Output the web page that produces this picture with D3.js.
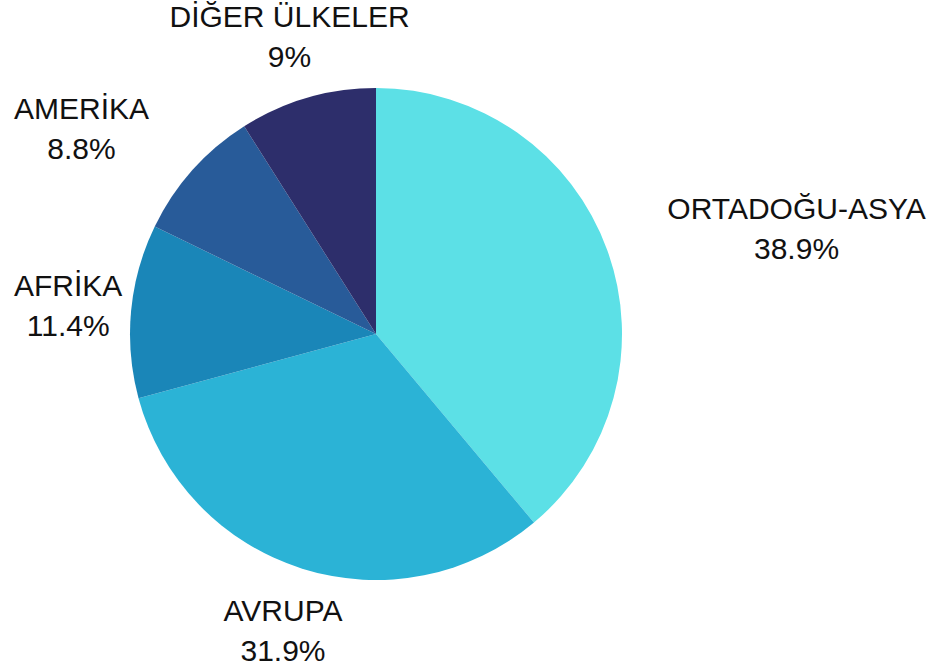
<!DOCTYPE html>
<html>
<head>
<meta charset="utf-8">
<script src="https://cdn.jsdelivr.net/npm/d3@7"></script>
<style>
  html, body { margin: 0; padding: 0; background: #fff; }
  svg { display: block; font-family: "Liberation Sans", Arial, sans-serif; }
</style>
</head>
<body>
<div id="chart"></div>
<script>
const regions = ["ORTADOĞU-ASYA", "AVRUPA", "AFRİKA", "AMERİKA", "DİĞER ÜLKELER"];
const shares = [38.9, 31.9, 11.4, 8.8, 9];
const colors = ["#5ce0e6", "#2bb3d6", "#1a86b8", "#285b99", "#2d2e6b"];

const width = 935;
const height = 670;
const cx = 376;
const cy = 334;
const radius = 246;
const labelRadius = 310;
const edge = 14;

const data = regions.map((name, i) => ({ name, value: shares[i], color: colors[i] }));

const svg = d3.select("#chart").append("svg")
  .attr("width", width)
  .attr("height", height)
  .attr("viewBox", [0, 0, width, height]);

const g = svg.append("g").attr("transform", `translate(${cx},${cy})`);

const pie = d3.pie().sort(null).value((d) => d.value);
const arc = d3.arc().innerRadius(0).outerRadius(radius);
const arcs = pie(data);

g.selectAll("path")
  .data(arcs)
  .join("path")
  .attr("fill", (d) => d.data.color)
  .attr("d", arc);

// labels: placed outside the slice midpoint, anchored away from the pie, kept inside the canvas
const measure = svg.append("text").attr("font-size", 30).attr("visibility", "hidden");
const textWidth = (s) => measure.text(s).node().getComputedTextLength();

const labels = arcs.map((d) => {
  const a = (d.startAngle + d.endAngle) / 2;
  const px = cx + Math.sin(a) * labelRadius;
  const py = cy - Math.cos(a) * labelRadius;
  const lines = [d.data.name, d.data.value + "%"];
  const w = d3.max(lines, textWidth);
  const s = Math.sin(a);
  let mid = s > 0.5 ? px + w / 2 : s < -0.5 ? px - w / 2 : px;
  mid = Math.max(edge + w / 2, Math.min(width - edge / 4 - w / 2, mid));
  return { x: mid, y: py, lines };
});
measure.remove();

const gLabels = svg.append("g")
  .attr("fill", "#111")
  .attr("font-size", 30)
  .attr("text-anchor", "middle");

gLabels.selectAll("text")
  .data(labels)
  .join("text")
  .attr("transform", (d) => `translate(${d.x},${d.y})`)
  .selectAll("tspan")
  .data((d) => d.lines)
  .join("tspan")
  .attr("x", 0)
  .attr("y", (d, i) => (i === 0 ? -9 : 31))
  .text((d) => d);
</script>
</body>
</html>
